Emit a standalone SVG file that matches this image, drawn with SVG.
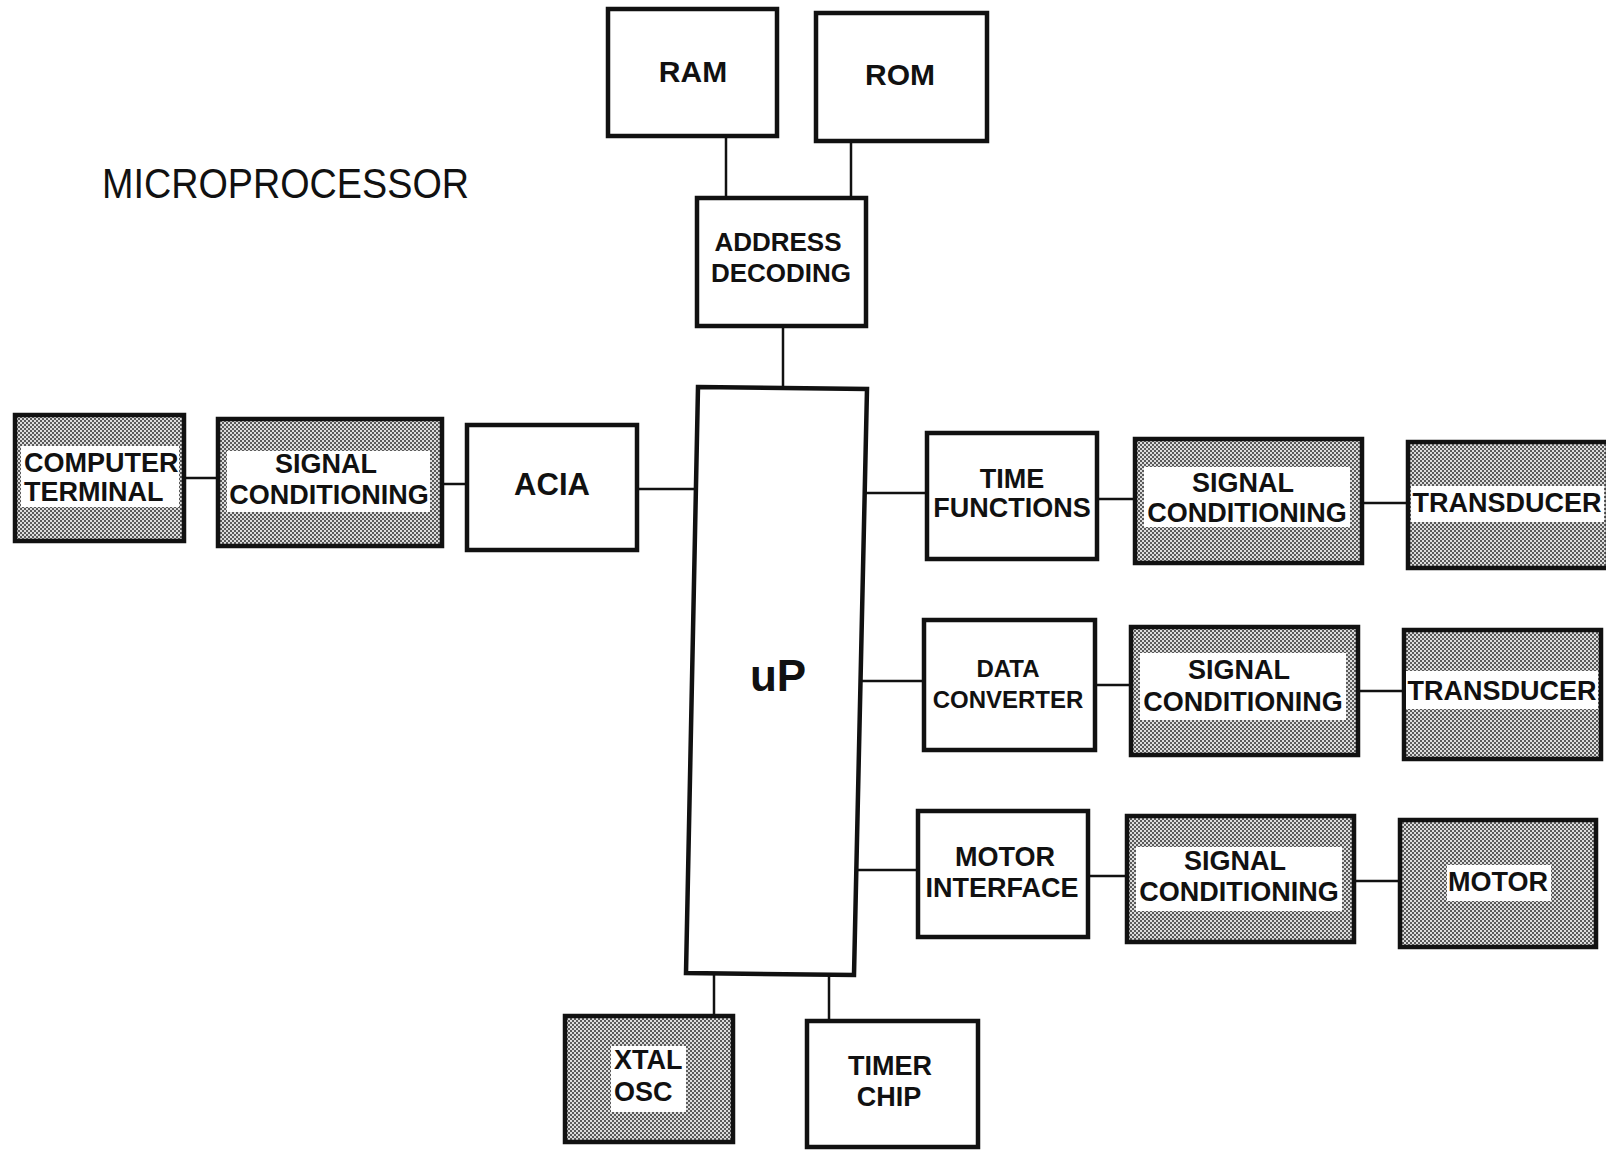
<svg xmlns="http://www.w3.org/2000/svg" width="1606" height="1150" viewBox="0 0 1606 1150">
  <defs>
    <!-- fine dot screen used for shaded blocks -->
    <pattern id="screen" width="4" height="4" patternUnits="userSpaceOnUse">
      <rect width="4" height="4" fill="#dcdcdc"/>
      <rect x="0" y="0" width="2" height="2" fill="#5a5a5a"/>
      <rect x="2" y="2" width="2" height="2" fill="#5a5a5a"/>
    </pattern>
    <style>
      .box { fill: #fff; stroke: #111; stroke-width: 4.5; }
      .shade { fill: url(#screen); stroke: #111; stroke-width: 4.5; }
      .panel { fill: #fff; stroke: none; }
      .lbl { font-family: "Liberation Sans", Arial, sans-serif; font-weight: bold; font-size: 27px; fill: #111; text-anchor: middle; }
      .start { text-anchor: start; }
      .wire { stroke: #111; stroke-width: 2.5; fill: none; }
      .title { font-family: "Liberation Sans", Arial, sans-serif; font-size: 42px; fill: #111; }
    </style>
  </defs>

  <rect width="1606" height="1150" fill="#fff"/>

  <text class="title" x="102" y="198" textLength="367" lengthAdjust="spacingAndGlyphs">MICROPROCESSOR</text>

  <!-- connectors -->
  <g id="connectors">
    <line class="wire" x1="726" y1="136" x2="726" y2="198"/>
    <line class="wire" x1="851" y1="141" x2="851" y2="198"/>
    <line class="wire" x1="783" y1="326" x2="783" y2="388"/>
    <line class="wire" x1="184" y1="478" x2="218" y2="478"/>
    <line class="wire" x1="442" y1="484" x2="467" y2="484"/>
    <line class="wire" x1="637" y1="489" x2="696" y2="489"/>
    <line class="wire" x1="866" y1="493" x2="927" y2="493"/>
    <line class="wire" x1="1097" y1="499" x2="1135" y2="499"/>
    <line class="wire" x1="1362" y1="503" x2="1408" y2="503"/>
    <line class="wire" x1="862" y1="681" x2="924" y2="681"/>
    <line class="wire" x1="1095" y1="685" x2="1131" y2="685"/>
    <line class="wire" x1="1358" y1="691" x2="1404" y2="691"/>
    <line class="wire" x1="857" y1="870" x2="918" y2="870"/>
    <line class="wire" x1="1088" y1="876" x2="1127" y2="876"/>
    <line class="wire" x1="1354" y1="881" x2="1400" y2="881"/>
    <line class="wire" x1="714" y1="974" x2="714" y2="1016"/>
    <line class="wire" x1="829" y1="975" x2="829" y2="1021"/>
  </g>

  <g id="ram">
    <rect class="box" x="608" y="9" width="169" height="127"/>
    <text class="lbl" x="693" y="82" style="font-size:30px">RAM</text>
  </g>
  <g id="rom">
    <rect class="box" x="816" y="13" width="171" height="128"/>
    <text class="lbl" x="900" y="85" style="font-size:30px">ROM</text>
  </g>
  <g id="address-decoding">
    <rect class="box" x="697" y="198" width="169" height="128"/>
    <text class="lbl" x="778" y="251" style="font-size:26px">ADDRESS</text>
    <text class="lbl" x="781" y="282" style="font-size:26px">DECODING</text>
  </g>
  <g id="up">
    <polygon class="box" points="698,387 867,389 854,975 686,973"/>
    <text class="lbl" x="778" y="691" style="font-size:44px">uP</text>
  </g>

  <g id="computer-terminal">
    <rect class="shade" x="15" y="415" width="169" height="126"/>
    <rect class="panel" x="21" y="446" width="158" height="61"/>
    <text class="lbl start" x="24" y="472">COMPUTER</text>
    <text class="lbl start" x="24" y="501">TERMINAL</text>
  </g>
  <g id="signal-conditioning-acia">
    <rect class="shade" x="218" y="419" width="224" height="127"/>
    <rect class="panel" x="227" y="451" width="203" height="61"/>
    <text class="lbl" x="326" y="473">SIGNAL</text>
    <text class="lbl" x="329" y="504">CONDITIONING</text>
  </g>
  <g id="acia">
    <rect class="box" x="467" y="425" width="170" height="125"/>
    <text class="lbl" x="552" y="495" style="font-size:31px">ACIA</text>
  </g>

  <g id="time-functions">
    <rect class="box" x="927" y="433" width="170" height="126"/>
    <text class="lbl" x="1012" y="488">TIME</text>
    <text class="lbl" x="1012" y="517">FUNCTIONS</text>
  </g>
  <g id="signal-conditioning-1">
    <rect class="shade" x="1135" y="439" width="227" height="124"/>
    <rect class="panel" x="1144" y="467" width="206" height="60"/>
    <text class="lbl" x="1243" y="492">SIGNAL</text>
    <text class="lbl" x="1247" y="522">CONDITIONING</text>
  </g>
  <g id="transducer-1">
    <rect class="shade" x="1408" y="442" width="200" height="126"/>
    <rect class="panel" x="1411" y="486" width="193" height="36"/>
    <text class="lbl" x="1507" y="512">TRANSDUCER</text>
  </g>

  <g id="data-converter">
    <rect class="box" x="924" y="620" width="171" height="130"/>
    <text class="lbl" x="1008" y="677" style="font-size:24px">DATA</text>
    <text class="lbl" x="1008" y="708" style="font-size:24px">CONVERTER</text>
  </g>
  <g id="signal-conditioning-2">
    <rect class="shade" x="1131" y="627" width="227" height="128"/>
    <rect class="panel" x="1140" y="653" width="206" height="67"/>
    <text class="lbl" x="1239" y="679">SIGNAL</text>
    <text class="lbl" x="1243" y="711">CONDITIONING</text>
  </g>
  <g id="transducer-2">
    <rect class="shade" x="1404" y="630" width="197" height="129"/>
    <rect class="panel" x="1406" y="671" width="192" height="38"/>
    <text class="lbl" x="1502" y="700">TRANSDUCER</text>
  </g>

  <g id="motor-interface">
    <rect class="box" x="918" y="811" width="170" height="126"/>
    <text class="lbl" x="1005" y="866">MOTOR</text>
    <text class="lbl" x="1002" y="897">INTERFACE</text>
  </g>
  <g id="signal-conditioning-3">
    <rect class="shade" x="1127" y="816" width="227" height="126"/>
    <rect class="panel" x="1136" y="847" width="206" height="64"/>
    <text class="lbl" x="1235" y="870">SIGNAL</text>
    <text class="lbl" x="1239" y="901">CONDITIONING</text>
  </g>
  <g id="motor">
    <rect class="shade" x="1400" y="820" width="196" height="127"/>
    <rect class="panel" x="1447" y="865" width="104" height="36"/>
    <text class="lbl" x="1498" y="891">MOTOR</text>
  </g>

  <g id="xtal-osc">
    <rect class="shade" x="565" y="1016" width="168" height="126"/>
    <rect class="panel" x="611" y="1046" width="75" height="66"/>
    <text class="lbl start" x="614" y="1069">XTAL</text>
    <text class="lbl start" x="614" y="1101">OSC</text>
  </g>
  <g id="timer-chip">
    <rect class="box" x="807" y="1021" width="171" height="126"/>
    <text class="lbl" x="890" y="1075">TIMER</text>
    <text class="lbl" x="889" y="1106">CHIP</text>
  </g>
</svg>
